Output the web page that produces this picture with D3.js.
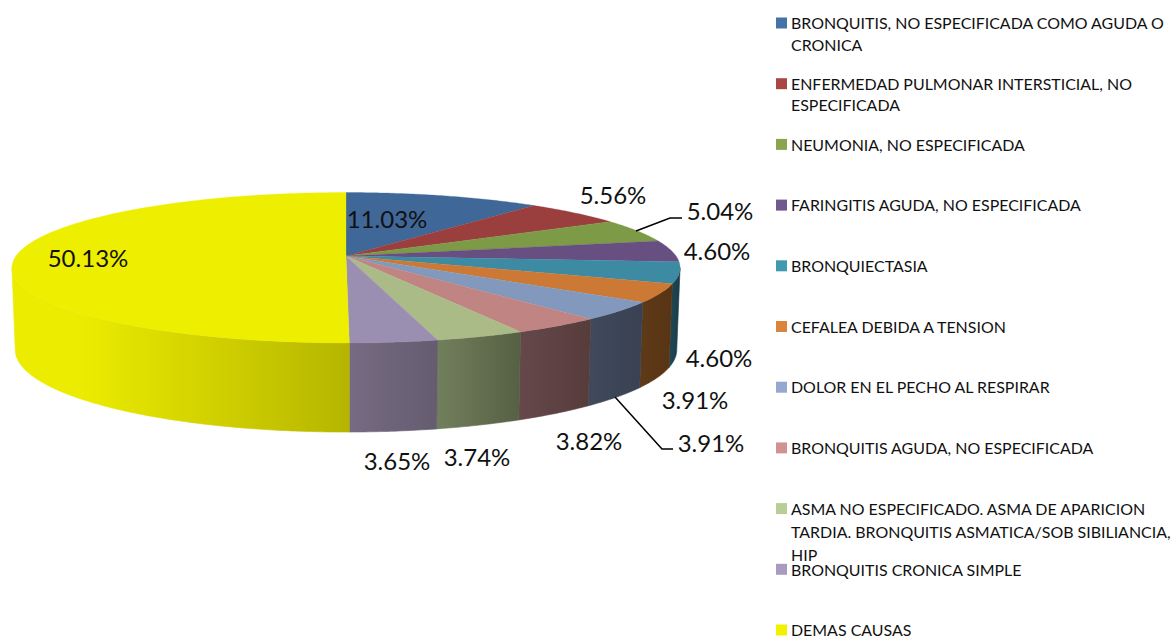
<!DOCTYPE html>
<html><head><meta charset="utf-8">
<script src="https://cdn.jsdelivr.net/npm/d3@7/dist/d3.min.js"></script>
<style>html,body{margin:0;padding:0;background:#fff;overflow:hidden}svg{display:block}text{font-family:Lato,"Open Sans",sans-serif;fill:#111}</style>
</head><body><svg id="c" width="1176" height="637"></svg>
<script>
const categories=["BRONQUITIS, NO ESPECIFICADA COMO AGUDA O CRONICA","ENFERMEDAD PULMONAR INTERSTICIAL, NO ESPECIFICADA","NEUMONIA, NO ESPECIFICADA","FARINGITIS AGUDA, NO ESPECIFICADA","BRONQUIECTASIA","CEFALEA DEBIDA A TENSION","DOLOR EN EL PECHO AL RESPIRAR","BRONQUITIS AGUDA, NO ESPECIFICADA","ASMA NO ESPECIFICADO. ASMA DE APARICION TARDIA. BRONQUITIS ASMATICA/SOB SIBILIANCIA, HIP","BRONQUITIS CRONICA SIMPLE","DEMAS CAUSAS"];
const values=[11.03,5.56,5.04,4.60,4.60,3.91,3.91,3.82,3.74,3.65,50.13];
const valueLabels=["11.03%","5.56%","5.04%","4.60%","4.60%","3.91%","3.91%","3.82%","3.74%","3.65%","50.13%"];
const topColors=["#3f6797","#9a3f3e","#7d9a46","#674f82","#3c8ba3","#cb7935","#8299bd","#c08483","#aabb87","#9a8fb0","#eeee00"];
const legendColors=["#4572a7","#aa4643","#89a54e","#71588f","#4198af","#db843d","#93a9cf","#d19392","#b9cd96","#a99bbd","#f2f200"];
const sideLeft=["#2c4868","#6b2c2b","#566b30","#47375a","#1f4a57","#5f3a18","#404a5c","#66484a","#727f5c","#766b82","#ecec00"];
const sideRight=["#2c4868","#6b2c2b","#566b30","#47375a","#1a3c47","#573414","#394152","#573c3c","#566044","#655c70","#b5b500"];
const labelXY=[[387,219],[613,195],[720,211],[717,251],[719,358],[695,400],[711,443],[589,441],[477,457],[397,461],[88,258]];
const leaders=[[[636,231],[670,218],[682,218]],[[615,397],[662,449],[673,449]]];

const svg=d3.select("#c");
const cx=346,apexY=256,R=330,H=73.4,k=0.156,drop=81,sx=0.99,sy=1.093;
const topPt=a=>{const u=Math.sin(a),v=-Math.cos(a),w=1-k*v;return [cx+R*u/w,apexY+H*v/w];};
const botPt=a=>{const p=topPt(a);return [cx+(p[0]-cx)*sx,apexY+drop+(p[1]-apexY)*sy];};
const samples=(a,b)=>{const n=Math.max(2,Math.ceil((b-a)/0.01));return d3.range(n+1).map(i=>a+(b-a)*i/n);};
const line=d3.line();
const arcs=d3.pie().sort(null).value(d=>d)(values);
const defs=svg.append("defs");
const lo=Math.acos(-k),hi=2*Math.PI-lo;

// side walls
arcs.forEach((d,i)=>{
  const a=Math.max(d.startAngle,lo),b=Math.min(d.endAngle,hi);
  if(b<=a)return;
  const g=defs.append("linearGradient").attr("id","g"+i).attr("gradientUnits","objectBoundingBox");
  g.append("stop").attr("offset",0).attr("stop-color",sideLeft[i]);
  if(i===10)g.append("stop").attr("offset",0.2).attr("stop-color",sideLeft[i]);
  g.append("stop").attr("offset",1).attr("stop-color",sideRight[i]);
  const s=samples(a,b);
  const pts=s.map(topPt).concat(s.slice().reverse().map(botPt));
  svg.append("path").attr("d",line(pts)+"Z").attr("fill",`url(#g${i})`).attr("stroke",`url(#g${i})`).attr("stroke-width",0.6);
});
// top faces
arcs.forEach((d,i)=>{
  const pts=[[cx,apexY]].concat(samples(d.startAngle,d.endAngle).map(topPt));
  svg.append("path").attr("d",line(pts)+"Z").attr("fill",topColors[i]).attr("stroke",topColors[i]).attr("stroke-width",0.3);
});
// leaders
leaders.forEach(l=>svg.append("path").attr("d",line(l)).attr("fill","none").attr("stroke","#000").attr("stroke-width",1.5));
// value labels
svg.selectAll("text.v").data(valueLabels).join("text").attr("class","v")
  .attr("x",(d,i)=>labelXY[i][0]).attr("y",(d,i)=>labelXY[i][1]+8.5)
  .attr("text-anchor","middle").attr("font-size",24).text(d=>d);
// legend
const ly=d3.scaleLinear().domain([0,10]).range([23,630]);
const maxW=392;
categories.forEach((c,i)=>{
  const y=ly(i);
  svg.append("rect").attr("x",776).attr("y",y-5.5).attr("width",11).attr("height",11).attr("fill",legendColors[i]);
  const t=svg.append("text").attr("font-size",15.95);
  let cur="",n=0;
  const add=s=>t.append("tspan").attr("x",791).attr("y",y+6.2+n*(i===8?23:21.5)).text(s);
  let sp=add("");
  c.split(" ").forEach(w=>{
    const tr=cur?cur+" "+w:w;
    sp.text(tr);
    if(sp.node().getComputedTextLength()>maxW&&cur){sp.text(cur);n++;sp=add(w);cur=w;}else cur=tr;
  });
});
</script></body></html>
